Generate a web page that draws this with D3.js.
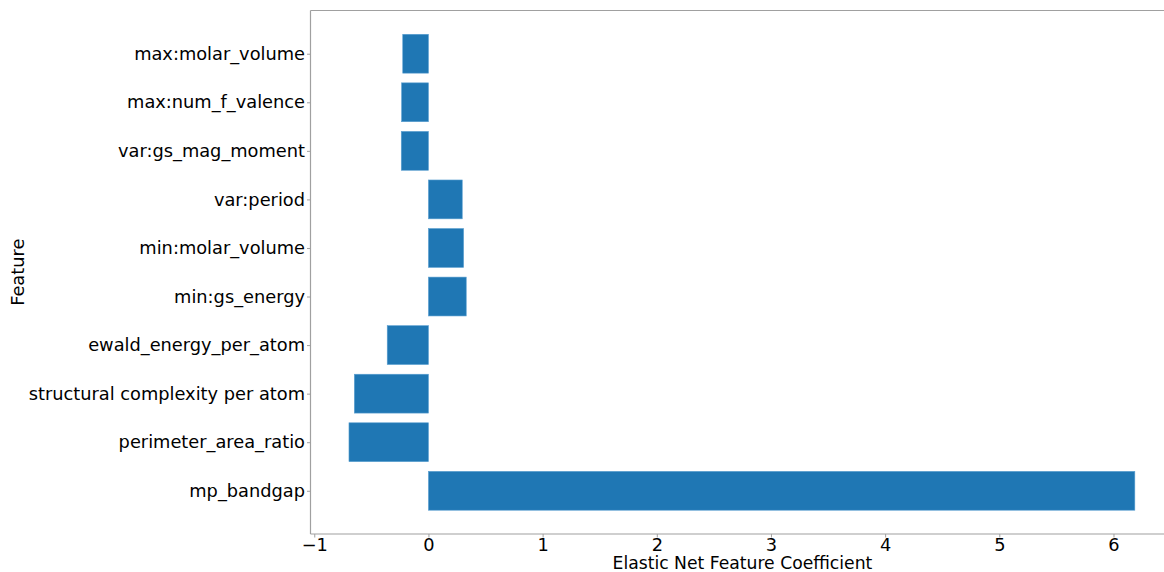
<!DOCTYPE html>
<html>
<head>
<meta charset="utf-8">
<script src="https://cdn.jsdelivr.net/npm/d3@7"></script>
<style>
body{margin:0;background:#fff;}
svg text{font-family:"DejaVu Sans",sans-serif;fill:#000;}
</style>
</head>
<body>
<svg id="chart" width="1164" height="572"></svg>
<script>
const features = ["mp_bandgap","perimeter_area_ratio","structural complexity per atom","ewald_energy_per_atom","min:gs_energy","min:molar_volume","var:period","var:gs_mag_moment","max:num_f_valence","max:molar_volume"];
const coefficients = [6.187,-0.696,-0.649,-0.361,0.331,0.308,0.296,-0.238,-0.235,-0.225];
const xTicks = [-1,0,1,2,3,4,5,6];
const xLabel = "Elastic Net Feature Coefficient";
const yLabel = "Feature";

(function(){
const svg = d3.select("#chart");
const pL = 310.5, pR = 1166, pT = 10.5, pB = 534;
const fs = 17.8;
const x = d3.scaleLinear().domain([-1.033, 6.46]).range([pL, pR]);
const y = d3.scaleLinear().domain([-0.89, 9.89]).range([pB, pT]);
const barH = y(0) - y(0.8);

svg.append("g").selectAll("rect").data(coefficients).join("rect")
  .attr("x", d => x(Math.min(0, d)))
  .attr("width", d => Math.abs(x(d) - x(0)))
  .attr("y", (d, i) => y(i + 0.4))
  .attr("height", barH)
  .attr("fill", "#1f77b4")
  .attr("stroke", "#5a9fd0").attr("stroke-width", 0.6);

const spine = "#a0a0a0";
svg.append("line").attr("x1", pL).attr("x2", pL).attr("y1", pT).attr("y2", pB).attr("stroke", spine).attr("stroke-width", 1.2);
svg.append("line").attr("x1", pL).attr("x2", pR).attr("y1", pT).attr("y2", pT).attr("stroke", spine).attr("stroke-width", 1.2);

const xAxis = svg.append("g").attr("transform", `translate(0,${pB})`)
  .call(d3.axisBottom(x).tickValues(xTicks).tickSize(3.5).tickPadding(0.5).tickFormat(d => d < 0 ? "\u2212" + Math.abs(d) : d));
xAxis.select(".domain").attr("stroke", spine).attr("stroke-width", 1.2).attr("d", `M${pL},0H${pR}`);
xAxis.selectAll(".tick line").attr("stroke", spine);
xAxis.selectAll(".tick text").attr("font-size", fs).attr("font-family", "DejaVu Sans");

const yAxis = svg.append("g").attr("transform", `translate(${pL},0)`)
  .call(d3.axisLeft(y).tickValues(d3.range(features.length)).tickSize(3.5).tickPadding(2).tickFormat(i => features[i]));
yAxis.select(".domain").remove();
yAxis.selectAll(".tick line").attr("stroke", spine);
yAxis.selectAll(".tick text").attr("font-size", fs).attr("font-family", "DejaVu Sans");

svg.append("text").attr("x", x(2.75)).attr("y", 568.5).attr("text-anchor", "middle")
  .attr("font-size", 17.2).text(xLabel);
svg.append("text").attr("transform", `translate(24,${(pT + pB) / 2}) rotate(-90)`)
  .attr("text-anchor", "middle").attr("font-size", fs).text(yLabel);
})();
</script>
</body>
</html>
